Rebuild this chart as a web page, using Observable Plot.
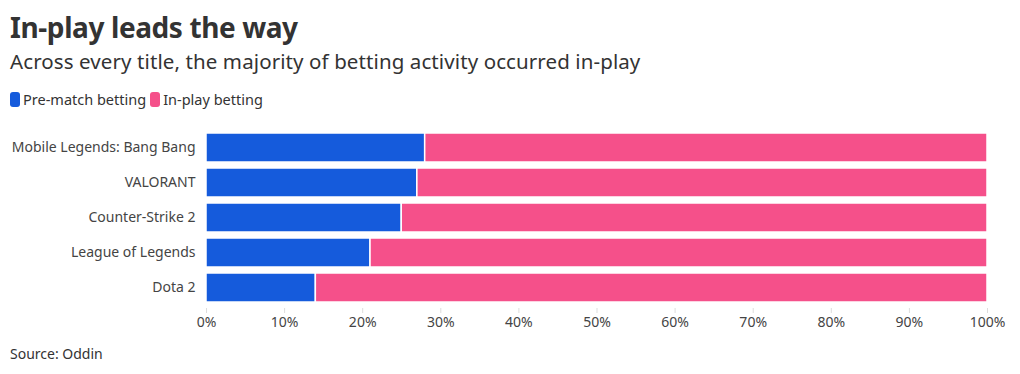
<!DOCTYPE html>
<html>
<head>
<meta charset="utf-8">
<script src="https://cdn.jsdelivr.net/npm/d3@7"></script>
<script src="https://cdn.jsdelivr.net/npm/@observablehq/plot@0.6"></script>
<style>
  body { margin: 0; background: #fff; font-family: "Noto Sans", sans-serif; color: #333; }
  #wrap { position: relative; width: 1020px; height: 374px; }
  h1 { position: absolute; left: 10px; top: 8px; margin: 0; font-size: 28px; font-weight: 700; color: #333; letter-spacing: -0.4px; }
  h2 { position: absolute; left: 10px; top: 47px; margin: 0; font-size: 20.5px; font-weight: 400; color: #333; letter-spacing: 0.1px; }
  #legend { position: absolute; left: 10px; top: 89px; font-size: 14.5px; color: #333; display: flex; align-items: center; }
  .sw { display: inline-block; width: 10px; height: 15px; border-radius: 3px; margin-right: 3px; }
  .item { display: flex; align-items: center; margin-right: 4px; }
  #chart { position: absolute; left: 0; top: 120px; }
  #source { position: absolute; left: 10px; top: 344px; font-size: 14px; color: #333; }
</style>
</head>
<body>
<div id="wrap">
  <h1>In-play leads the way</h1>
  <h2>Across every title, the majority of betting activity occurred in-play</h2>
  <div id="legend"></div>
  <div id="chart"></div>
  <div id="source">Source: Oddin</div>
</div>
<script>
const titles = ["Mobile Legends: Bang Bang", "VALORANT", "Counter-Strike 2", "League of Legends", "Dota 2"];
const preMatch = [28, 27, 25, 21, 14];
const inPlay = [72, 73, 75, 79, 86];
const seriesNames = ["Pre-match betting", "In-play betting"];
const seriesColors = ["#155bdc", "#f5508a"];
const xTicks = [0, 10, 20, 30, 40, 50, 60, 70, 80, 90, 100];

const legend = document.getElementById("legend");
seriesNames.forEach((n, i) => {
  const it = document.createElement("span");
  it.className = "item";
  it.innerHTML = `<span class="sw" style="background:${seriesColors[i]}"></span>${n}`;
  legend.appendChild(it);
});

const data = [];
titles.forEach((t, i) => {
  data.push({title: t, series: seriesNames[0], value: preMatch[i]});
  data.push({title: t, series: seriesNames[1], value: inPlay[i]});
});

const chart = Plot.plot({
  width: 1020,
  height: 218,
  marginTop: 7,
  marginBottom: 30,
  marginLeft: 206,
  marginRight: 33,
  style: {fontFamily: "Noto Sans, sans-serif", fontSize: "14px", color: "#444"},
  x: {domain: [0, 100], label: null},
  y: {domain: titles, padding: 0.17, label: null},
  color: {domain: seriesNames, range: seriesColors},
  marks: [
    Plot.barX(data, Plot.stackX({x: "value", y: "title", fill: "series", order: seriesNames, stroke: "white", strokeWidth: 1.5})),
    Plot.axisX({ticks: xTicks, tickFormat: d => d + "%", tickSize: 5, stroke: "#ddd", color: "#444", fontSize: 14, label: null}),
    Plot.axisY({tickSize: 0, tickPadding: 11, fontSize: 14, color: "#444", label: null})
  ]
});
document.getElementById("chart").appendChild(chart);
</script>
</body>
</html>
